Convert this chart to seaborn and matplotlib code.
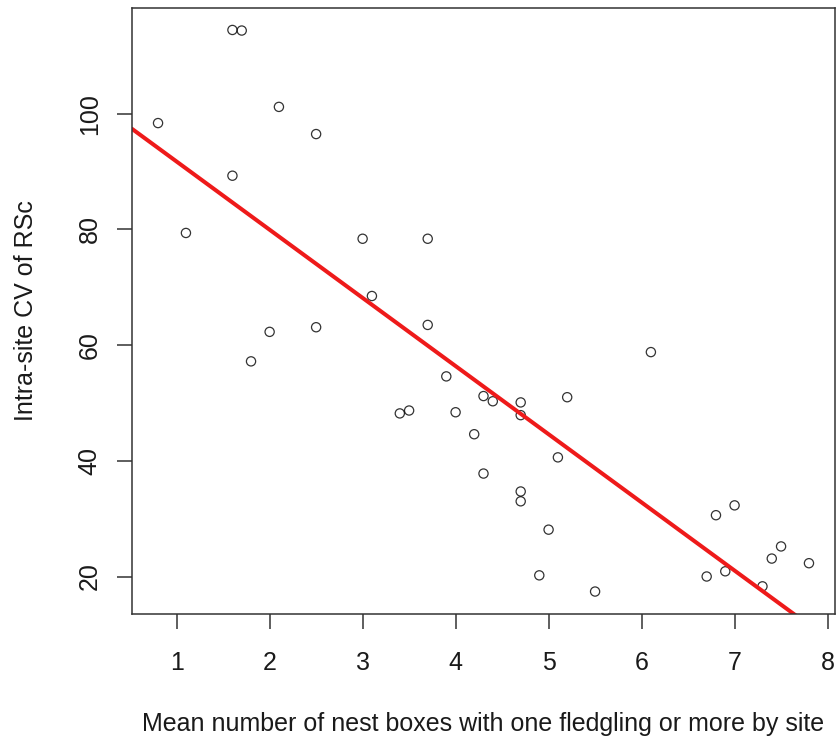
import numpy as np
import pandas as pd
import matplotlib
matplotlib.use("Agg")
import matplotlib.pyplot as plt
import seaborn as sns

# Mean number of nest boxes with >= 1 fledgling, per site
boxes = [0.8, 1.1, 1.6, 1.7, 1.6, 1.8, 2.0, 2.1, 2.5, 2.5,
         3.0, 3.1, 3.4, 3.5, 3.7, 3.7, 3.9, 4.0, 4.2, 4.3,
         4.4, 4.3, 4.7, 4.7, 4.7, 4.7, 5.0, 5.1, 5.2, 4.9,
         5.5, 6.1, 6.7, 6.8, 6.9, 7.0, 7.3, 7.4, 7.5, 7.8]
# Intra-site CV of RSc
cv = [98.4, 79.4, 114.5, 114.4, 89.3, 57.2, 62.3, 101.2, 96.5, 63.1,
      78.4, 68.5, 48.2, 48.7, 78.4, 63.5, 54.6, 48.4, 44.6, 51.2,
      50.3, 37.8, 50.1, 47.9, 34.7, 33.0, 28.1, 40.6, 51.0, 20.2,
      17.4, 58.8, 20.0, 30.6, 20.9, 32.3, 18.3, 23.1, 25.2, 22.3]
xticks = [1, 2, 3, 4, 5, 6, 7, 8]
yticks = [20, 40, 60, 80, 100]

df = pd.DataFrame({"boxes": boxes, "cv": cv})

sns.set_style("ticks")
plt.rcParams["font.family"] = ["Liberation Sans", "DejaVu Sans"]

fig = plt.figure(figsize=(8.37, 7.42), dpi=100)
ax = fig.add_axes([132 / 837, 128 / 742, 703 / 837, 606.5 / 742])

# R style limits: 4% padding on each side
def padded(v):
    lo, hi = min(v), max(v)
    d = (hi - lo) * 0.04
    return lo - d, hi + d

xlim = padded(boxes)
ylim = padded(cv)
ax.set_xlim(xlim)
ax.set_ylim(ylim)

sns.regplot(data=df, x="boxes", y="cv", ax=ax, ci=None, truncate=False,
            scatter_kws=dict(s=44, facecolors="none", edgecolors="black", linewidths=0.9),
            line_kws=dict(color="#ee1a1a", lw=2.9))

ax.set_xlim(xlim)
ax.set_ylim(ylim)
ax.set_xticks(xticks)
ax.set_yticks(yticks)

for s in ax.spines.values():
    s.set_visible(True)
    s.set_color("#333333")
    s.set_linewidth(1.1)

ax.tick_params(axis="both", direction="out", length=10.8, width=1.1, color="#333333",
               labelsize=18, labelcolor="#1a1a1a")
ax.tick_params(axis="x", pad=16)
ax.tick_params(axis="y", pad=11, labelrotation=90)
for lbl in ax.get_yticklabels():
    lbl.set_va("center")

ax.set_xlabel("Mean number of nest boxes with one fledgling or more by site",
              fontsize=18, color="#1a1a1a")
ax.set_ylabel("Intra-site CV of RSc", fontsize=18, color="#1a1a1a")
ax.xaxis.set_label_coords(0.5, (614 - 712) / 606.5)
ax.yaxis.set_label_coords((38 - 132) / 703, 0.5)

fig.savefig("out.png", dpi=100)
